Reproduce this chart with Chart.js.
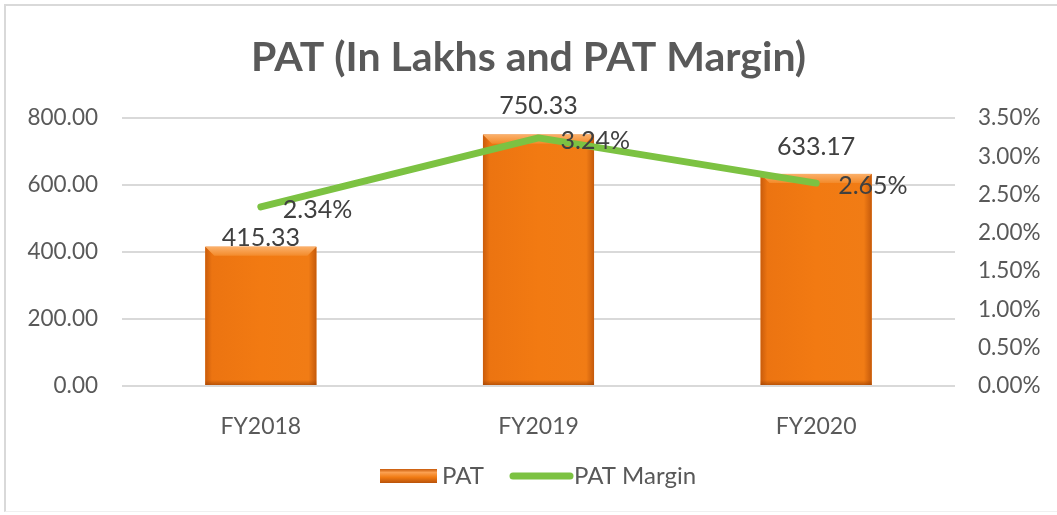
<!DOCTYPE html>
<html>
<head>
<meta charset="utf-8">
<script src="https://cdn.jsdelivr.net/npm/chart.js@4"></script>
<style>
  html, body { margin: 0; padding: 0; background: #fff; }
  #wrap { position: relative; width: 1057px; height: 515px; }
  #frame { position: absolute; left: 4px; top: 4px; right: 0; bottom: 3px;
           border-top: 2px solid #d9d9d9; border-left: 2px solid #d9d9d9; border-bottom: 1px solid #f0f0f0; }
</style>
</head>
<body>
<div id="wrap">
  <div id="frame"></div>
  <canvas id="patChart" width="1057" height="515"></canvas>
</div>
<script>
const years = ["FY2018", "FY2019", "FY2020"];
const patValues = [415.33, 750.33, 633.17];
const patMargin = [2.34, 3.24, 2.65];
const leftTicks = [0, 200, 400, 600, 800];
const rightTicks = [0, 0.5, 1, 1.5, 2, 2.5, 3, 3.5];

const FONT = "Lato, 'Open Sans', sans-serif";
const GREEN = "#7CC242";

// Excel-like bevel on the orange bars
const bevelBars = {
  id: 'bevelBars',
  afterDatasetDraw(chart, args) {
    if (args.meta.type !== 'bar') return;
    const ctx = chart.ctx;
    args.meta.data.forEach(bar => {
      const { x, y, base, width } = bar.getProps(['x', 'y', 'base', 'width'], true);
      const l = x - width / 2, r = x + width / 2;
      ctx.save();
      let g = ctx.createLinearGradient(l, 0, r, 0);
      g.addColorStop(0, '#C95C0C');
      g.addColorStop(0.06, '#EC7411');
      g.addColorStop(0.5, '#F27A12');
      g.addColorStop(0.93, '#F17C15');
      g.addColorStop(1, '#C55A0B');
      ctx.fillStyle = g;
      ctx.fillRect(l, y, width, base - y);
      // top bevel
      const b = 9;
      g = ctx.createLinearGradient(0, y, 0, y + b);
      g.addColorStop(0, '#FBB06A');
      g.addColorStop(1, '#F38A2A');
      ctx.fillStyle = g;
      ctx.beginPath();
      ctx.moveTo(l, y); ctx.lineTo(r, y); ctx.lineTo(r - b, y + b); ctx.lineTo(l + b, y + b); ctx.closePath();
      ctx.fill();
      // bottom shade
      g = ctx.createLinearGradient(0, base - 5, 0, base);
      g.addColorStop(0, 'rgba(150,60,0,0)');
      g.addColorStop(1, 'rgba(150,60,0,0.6)');
      ctx.fillStyle = g;
      ctx.fillRect(l, base - 5, width, 5);
      ctx.restore();
    });
  }
};

// data labels and custom legend
const labelsAndLegend = {
  id: 'labelsAndLegend',
  afterDatasetsDraw(chart) {
    const ctx = chart.ctx;
    const barLift = [9, 29, 27];
    ctx.save();
    ctx.font = "25px " + FONT;
    ctx.fillStyle = '#404040';
    chart.data.datasets.forEach((ds, di) => {
      const meta = chart.getDatasetMeta(di);
      meta.data.forEach((el, i) => {
        if (meta.type === 'bar') {
          ctx.textAlign = 'center';
          ctx.textBaseline = 'middle';
          ctx.fillText(ds.data[i].toFixed(2), el.x, el.y - barLift[i]);
        } else {
          ctx.textAlign = 'left';
          ctx.textBaseline = 'middle';
          ctx.fillText(ds.data[i].toFixed(2) + '%', el.x + 22, el.y + 3);
        }
      });
    });
    ctx.restore();
  },
  afterDraw(chart) {
    const ctx = chart.ctx;
    const cy = 476;
    ctx.save();
    // bar swatch
    let g = ctx.createLinearGradient(0, cy - 7, 0, cy + 7);
    g.addColorStop(0, '#C85A0A');
    g.addColorStop(0.25, '#FBA050');
    g.addColorStop(0.6, '#F07A12');
    g.addColorStop(1, '#B9520A');
    ctx.fillStyle = g;
    ctx.fillRect(380, cy - 7, 57, 14);
    ctx.font = "24px " + FONT;
    ctx.fillStyle = '#595959';
    ctx.textBaseline = 'middle';
    ctx.textAlign = 'left';
    ctx.fillText(chart.data.datasets[1].label, 442, cy);
    // line swatch
    ctx.strokeStyle = GREEN;
    ctx.lineWidth = 7;
    ctx.lineCap = 'round';
    ctx.beginPath();
    ctx.moveTo(513, cy); ctx.lineTo(570, cy);
    ctx.stroke();
    ctx.fillText(chart.data.datasets[0].label, 574, cy);
    ctx.restore();
  }
};

new Chart(document.getElementById('patChart').getContext('2d'), {
  data: {
    labels: years,
    datasets: [
      {
        type: 'line',
        label: 'PAT Margin',
        data: patMargin,
        yAxisID: 'y1',
        borderColor: GREEN,
        borderWidth: 7,
        borderCapStyle: 'round',
        borderJoinStyle: 'round',
        pointRadius: 0,
        tension: 0,
        order: 0
      },
      {
        type: 'bar',
        label: 'PAT',
        data: patValues,
        yAxisID: 'y',
        backgroundColor: '#F07A12',
        barPercentage: 0.4,
        categoryPercentage: 1,
        order: 1
      }
    ]
  },
  options: {
    responsive: false,
    animation: false,
    layout: { padding: { top: 33, left: 10, right: 10, bottom: 10 } },
    plugins: {
      legend: { display: false },
      tooltip: { enabled: false },
      title: {
        display: true,
        text: 'PAT (In Lakhs and PAT Margin)',
        color: '#595959',
        font: { family: FONT, size: 41, weight: 'bold', lineHeight: 1.2 },
        padding: { top: 0, bottom: 35.8 }
      }
    },
    scales: {
      x: {
        grid: { display: false },
        border: { display: false },
        ticks: { color: '#595959', font: { family: FONT, size: 23 }, padding: 19 },
        afterFit(s) { s.height = 119; }
      },
      y: {
        position: 'left',
        min: 0, max: 800,
        afterBuildTicks(s) { s.ticks = leftTicks.map(v => ({ value: v })); },
        ticks: { color: '#595959', font: { family: FONT, size: 22.5 }, padding: 24,
                 callback: v => v.toFixed(2) },
        grid: { color: '#d9d9d9', lineWidth: 2, drawTicks: false },
        border: { display: false },
        afterFit(s) { s.width = 112; }
      },
      y1: {
        position: 'right',
        min: 0, max: 3.5,
        afterBuildTicks(s) { s.ticks = rightTicks.map(v => ({ value: v })); },
        ticks: { color: '#595959', font: { family: FONT, size: 22.5 }, padding: 23,
                 callback: v => v.toFixed(2) + '%' },
        grid: { display: false, drawTicks: false },
        border: { display: false },
        afterFit(s) { s.width = 92; }
      }
    }
  },
  plugins: [bevelBars, labelsAndLegend]
});
</script>
</body>
</html>
